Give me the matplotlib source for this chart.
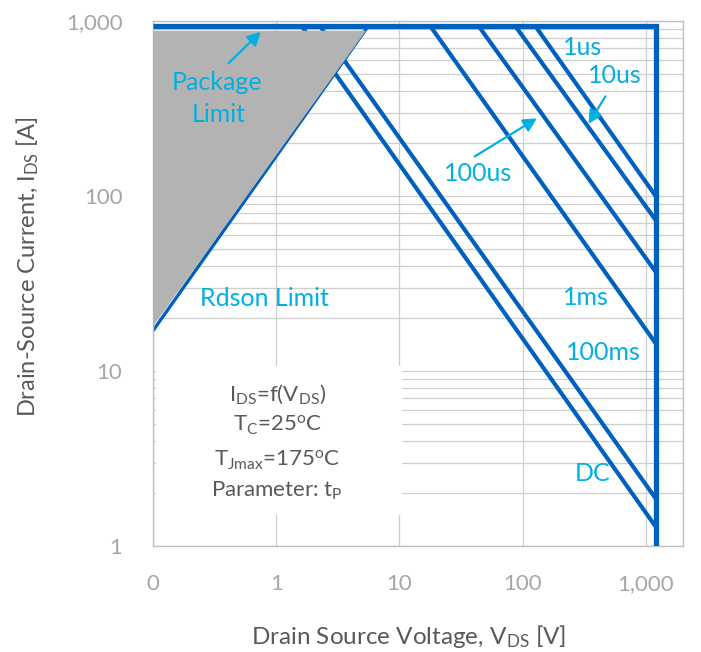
import matplotlib
matplotlib.use("Agg")
import matplotlib.pyplot as plt
from matplotlib.patches import Rectangle

plt.rcParams['font.family'] = ['Lato', 'DejaVu Sans']
plt.rcParams['mathtext.fontset'] = 'custom'
plt.rcParams['mathtext.rm'] = 'Lato'
plt.rcParams['mathtext.it'] = 'Lato'
plt.rcParams['mathtext.default'] = 'rm'

# ---- data ----
x_ticks = [0.1, 1, 10, 100, 1000]
x_tick_labels = ['0', '1', '10', '100', '1,000']
y_ticks = [1, 10, 100, 1000]
y_tick_labels = ['1', '10', '100', '1,000']

# SOA lines (thermal limits): start at package limit, end at V_max
us1_v, us1_i = [126, 1200], [940, 100]
us10_v, us10_i = [86.7, 1200], [940, 72.9]
us100_v, us100_i = [43.7, 1200], [940, 36.9]
ms1_v, ms1_i = [17.7, 1200], [940, 14.4]
ms100_v, ms100_i = [2.25, 1200], [940, 1.87]
dc_v, dc_i = [1.60, 1200], [940, 1.29]

# package limit + max voltage
pkg_v, pkg_i = [0.1, 1200, 1200], [940, 940, 1]
# Rdson limit line
rds_v, rds_i = [0.1, 5.6], [17, 940]
# gray (not allowed) region
gray_v, gray_i = [0.1, 5.35, 0.1], [18.0, 880, 880]

BLUE = '#0060BE'
CYAN = '#00B0E0'
GRID = '#CFCFCF'
TICK = '#A6A6A6'
TITLE = '#595959'

fig = plt.figure(figsize=(7.01, 6.52), dpi=100)
ax = fig.add_axes([153/701, 1-546/652, 530/701, 525/652])
ax.set_xscale('log')
ax.set_yscale('log')
ax.set_xlim(0.1, 2000)
ax.set_ylim(1, 1000)
ax.set_axisbelow(True)

ax.xaxis.grid(True, which='major', color=GRID, lw=0.9)
ax.yaxis.grid(True, which='both', color=GRID, lw=0.9)
ax.xaxis.set_minor_locator(matplotlib.ticker.NullLocator())

ax.set_xticks(x_ticks)
ax.set_xticklabels(x_tick_labels)
ax.set_yticks(y_ticks)
ax.set_yticklabels(y_tick_labels)
ax.tick_params(which='both', length=0)
ax.tick_params(axis='x', pad=20, labelsize=16, labelcolor=TICK)
ax.tick_params(axis='y', pad=22, labelsize=16, labelcolor=TICK)
for s in ax.spines.values():
    s.set_color('#BFBFBF')
    s.set_linewidth(1.0)

# white inset box covering grid
ax.add_patch(Rectangle((0.006, 0.059), 0.464, 0.284, transform=ax.transAxes,
                       facecolor='white', edgecolor='none', zorder=1))

lw = 3.0
for v, i in [(us1_v, us1_i), (us10_v, us10_i), (us100_v, us100_i),
             (ms1_v, ms1_i), (ms100_v, ms100_i), (dc_v, dc_i)]:
    ax.plot(v, i, color=BLUE, lw=lw, solid_capstyle='butt', zorder=2)
ax.plot(rds_v, rds_i, color=BLUE, lw=2.4, solid_capstyle='butt', zorder=2)
ax.fill(gray_v, gray_i, color='#B3B3B3', lw=0, zorder=3)
ax.plot(pkg_v, pkg_i, color=BLUE, lw=3.8, solid_capstyle='butt',
        solid_joinstyle='miter', zorder=4)

# labels
lab = dict(color=CYAN, fontsize=18, ha='center', va='center',
           transform=ax.transAxes, zorder=6)
ax.text(0.121, 0.882, 'Package', **lab)
ax.text(0.124, 0.821, 'Limit', **lab)
ax.text(0.210, 0.472, 'Rdson Limit', **lab)
ax.text(0.811, 0.950, '1us', **lab)
ax.text(0.872, 0.897, '10us', **lab)
ax.text(0.613, 0.710, '100us', **lab)
ax.text(0.817, 0.474, '1ms', **lab)
ax.text(0.849, 0.368, '100ms', **lab)
ax.text(0.830, 0.139, 'DC', **lab)

arr = dict(arrowstyle='-|>,head_length=0.8,head_width=0.42', color=CYAN, lw=1.6)
ax.annotate('', xy=(0.778, 889), xytext=(0.397, 561), arrowprops=arr, zorder=6)
ax.annotate('', xy=(136, 283), xytext=(39, 165), arrowprops=arr, zorder=6)
ax.annotate('', xy=(333, 251), xytext=(483, 383), arrowprops=arr, zorder=6)

# inset text
inset = dict(color=TITLE, fontsize=16, ha='center', va='center',
             transform=ax.transAxes, zorder=6)
ax.text(0.234, 0.290, r'I$_{DS}$=f(V$_{DS}$)', **inset)
ax.text(0.234, 0.230, r'T$_{C}$=25$^{o}$C', **inset)
ax.text(0.234, 0.164, r'T$_{Jmax}$=175$^{o}$C', **inset)
ax.text(0.234, 0.105, r'Parameter: t$_{P}$', **inset)

fig.text(409/701, 1-636/652, r'Drain Source Voltage, V$_{DS}$ [V]',
         color=TITLE, fontsize=17.5, ha='center', va='center')
fig.text(28/701, 1-267/652, r'Drain-Source Current, I$_{DS}$ [A]',
         color=TITLE, fontsize=17, ha='center', va='center', rotation=90)

fig.savefig('out.png', dpi=100)
